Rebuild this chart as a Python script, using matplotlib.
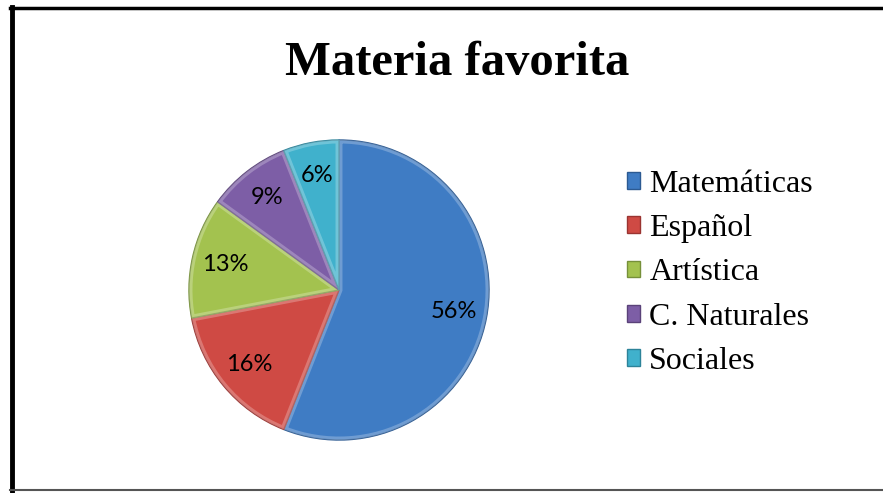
import matplotlib.pyplot as plt
from matplotlib.lines import Line2D
from matplotlib.patches import Wedge

# datos del grafico
materias = ["Matemáticas", "Español", "Artística", "C. Naturales", "Sociales"]
porcentajes = [56, 16, 13, 9, 6]
colores = ["#3f7cc4", "#cf4a44", "#a3c24f", "#7d5ea6", "#40b1cc"]
bordes = ["#2c5a92", "#9a3431", "#76903a", "#5a4279", "#2d8399"]
titulo = "Materia favorita"

W, H = 883, 493
fig = plt.figure(figsize=(W / 100, H / 100), dpi=100)
fig.patch.set_facecolor("white")

# pastel: centro ~ (339, 290) px, radio ~150 px
cx, cy, r = 339, 290, 150
ax = fig.add_axes([(cx - r) / W, (H - cy - r) / H, 2 * r / W, 2 * r / H])
cunas, textos, autotextos = ax.pie(
    porcentajes,
    colors=colores,
    startangle=90,
    counterclock=False,
    autopct="%d%%",
    pctdistance=0.78,
    wedgeprops=dict(linewidth=1.0),
    textprops=dict(fontfamily="Lato", fontsize=17, color="black"),
)
# efecto de bisel suave: borde interior claro recortado a cada cuña
for c, b in zip(cunas, bordes):
    c.set_edgecolor(b)
    w = Wedge(c.center, c.r, c.theta1, c.theta2, facecolor="none",
              edgecolor="white", linewidth=5, alpha=0.25)
    ax.add_patch(w)
    w.set_clip_path(c)
for t in autotextos:
    t.set_zorder(5)
ax.set_xlim(-1, 1)
ax.set_ylim(-1, 1)
ax.set_aspect("equal")
ax.axis("off")

# titulo
fig.text(457 / W, 1 - 63 / H, titulo, ha="center", va="center",
         fontfamily="Liberation Serif", fontweight="bold", fontsize=35)

# leyenda
leg = fig.legend(cunas, materias, loc="center left",
                 bbox_to_anchor=(627 / W, 1 - 273 / H),
                 frameon=False, borderpad=0, borderaxespad=0,
                 handlelength=0.42, handleheight=0.42, handletextpad=0.28,
                 labelspacing=0.48,
                 prop=dict(family="Liberation Serif", size=23))

# marco del grafico
fig.add_artist(Line2D([11.5 / W, 11.5 / W], [0, 1 - 7 / H], transform=fig.transFigure,
                      color="black", linewidth=3.5))
fig.add_artist(Line2D([10 / W, 1], [1 - 7.5 / H, 1 - 7.5 / H], transform=fig.transFigure,
                      color="black", linewidth=2.5))
fig.add_artist(Line2D([10 / W, 1], [1 - 490 / H, 1 - 490 / H], transform=fig.transFigure,
                      color="#555555", linewidth=1.5))

fig.savefig("out.png", dpi=100)
